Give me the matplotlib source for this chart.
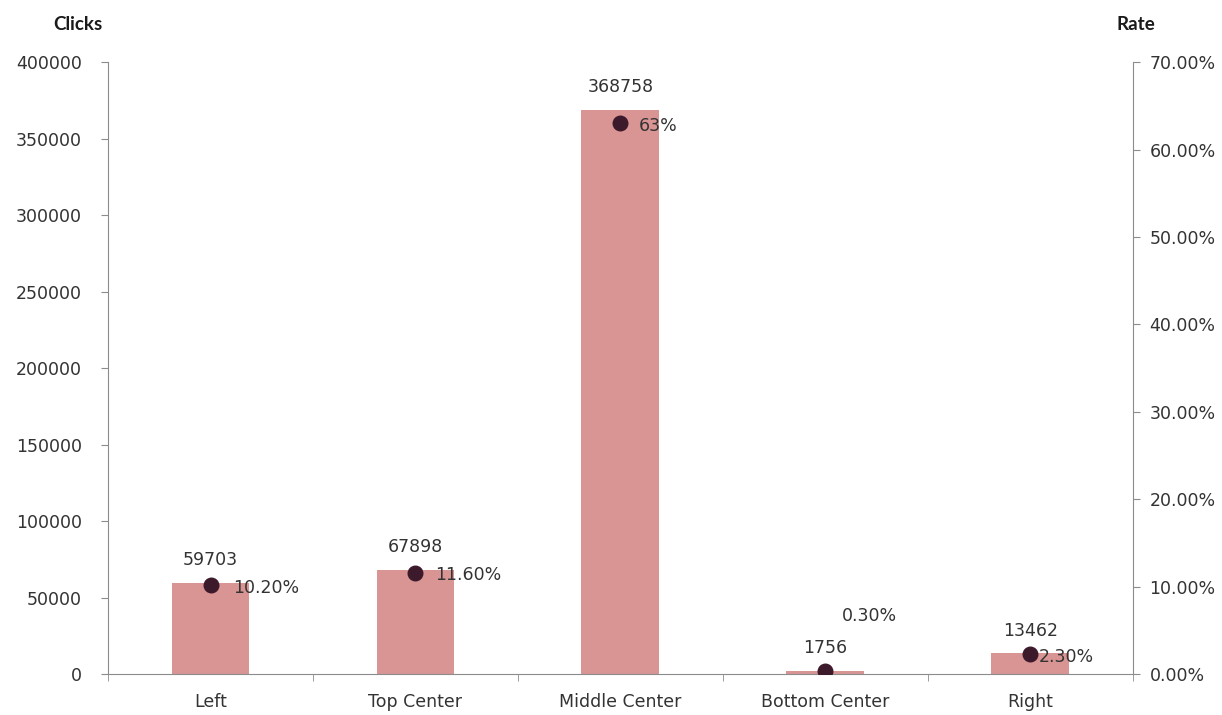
import matplotlib
matplotlib.use("Agg")
import matplotlib.pyplot as plt
import numpy as np
from matplotlib.ticker import FuncFormatter

positions = ['Left', 'Top Center', 'Middle Center', 'Bottom Center', 'Right']
clicks = [59703, 67898, 368758, 1756, 13462]
rates = [10.2, 11.6, 63.0, 0.3, 2.3]
rate_labels = ['10.20%', '11.60%', '63%', '0.30%', '2.30%']

# offsets (points) for the rate labels relative to each dot
rate_offsets = [(16, -2), (14, -2), (13, -2), (12, 40), (6, -2)]

bar_color = '#d99594'
dot_color = '#3d1a2b'
axis_color = '#8c8c8c'
text_color = '#333333'

plt.rcParams['font.family'] = ['DejaVu Sans']
plt.rcParams['font.size'] = 12.5

fig = plt.figure(figsize=(12.22, 7.15), dpi=100)
ax = fig.add_axes([0.0884, 0.0573, 0.8386, 0.8557])
x = np.arange(len(positions))

ax.bar(x, clicks, width=0.38, color=bar_color, zorder=2)
ax.set_xlim(-0.5, len(positions) - 0.5)
ax.set_ylim(0, 400000)
ax.set_yticks(np.arange(0, 400001, 50000))
ax.set_xticks(x)
ax.set_xticklabels(positions, color=text_color)
ax.set_xticks(np.arange(-0.5, len(positions), 1), minor=True)
ax.tick_params(axis='x', which='major', length=0, pad=14)
ax.tick_params(axis='x', which='minor', length=5, color=axis_color, direction='out')
ax.tick_params(axis='y', length=5, color=axis_color, colors=text_color, pad=14)
for side in ['top', 'right']:
    ax.spines[side].set_visible(False)
for side in ['left', 'bottom']:
    ax.spines[side].set_color(axis_color)

for xi, c in zip(x, clicks):
    ax.annotate(str(c), (xi, c), xytext=(0, 10), textcoords='offset points',
                ha='center', va='bottom', color=text_color)

ax2 = ax.twinx()
ax2.set_ylim(0, 70)
ax2.set_yticks(np.arange(0, 71, 10))
ax2.yaxis.set_major_formatter(FuncFormatter(lambda v, p: f'{v:.2f}%'))
ax2.tick_params(axis='y', length=5, color=axis_color, colors=text_color, pad=7)
for side in ['top', 'left', 'bottom']:
    ax2.spines[side].set_visible(False)
ax2.spines['right'].set_color(axis_color)

ax2.scatter(x, rates, s=110, color=dot_color, zorder=3)
for xi, r, lab, off in zip(x, rates, rate_labels, rate_offsets):
    ax2.annotate(lab, (xi, r), xytext=off, textcoords='offset points',
                 ha='left', va='center', color=text_color)

# axis titles sit above each value axis
fig.text(0.0434, 0.966, 'Clicks', fontsize=13.5, fontweight='bold',
         family='Lato', va='center', color='#1a1a1a')
fig.text(0.914, 0.966, 'Rate', fontsize=13.5, fontweight='bold',
         family='Lato', va='center', color='#1a1a1a')

fig.savefig('out.png', dpi=100)
